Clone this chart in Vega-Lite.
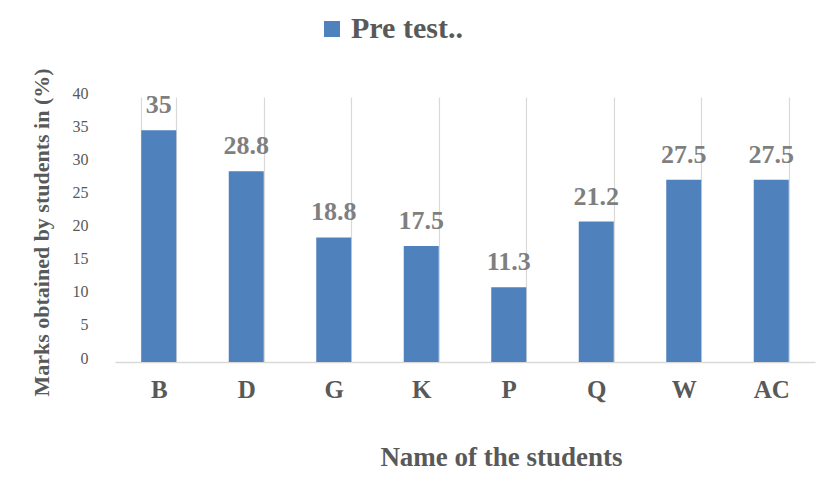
{
  "$schema": "https://vega.github.io/schema/vega-lite/v6.json",
  "autosize": {"type": "none"},
  "padding": {"left": 115, "top": 97, "right": 20, "bottom": 115},
  "width": 700,
  "height": 265,
  "background": "white",
  "config": {
    "view": {"stroke": null},
    "font": "Liberation Serif"
  },
  "data": {
    "values": [
      {"student": "B", "marks": 35, "series": "Pre test.."},
      {"student": "D", "marks": 28.8, "series": "Pre test.."},
      {"student": "G", "marks": 18.8, "series": "Pre test.."},
      {"student": "K", "marks": 17.5, "series": "Pre test.."},
      {"student": "P", "marks": 11.3, "series": "Pre test.."},
      {"student": "Q", "marks": 21.2, "series": "Pre test.."},
      {"student": "W", "marks": 27.5, "series": "Pre test.."},
      {"student": "AC", "marks": 27.5, "series": "Pre test.."}
    ]
  },
  "encoding": {
    "x": {
      "field": "student",
      "type": "nominal",
      "sort": null,
      "scale": {"paddingInner": 0.6, "paddingOuter": 0.3},
      "axis": {
        "title": "Name of the students",
        "titleFont": "Liberation Serif",
        "titleFontSize": 27,
        "titleFontWeight": "bold",
        "titleColor": "#595959",
        "titleX": 386,
        "titleY": 103,
        "titleBaseline": "alphabetic",
        "titleAnchor": "middle",
        "labelAngle": 0,
        "labelFont": "Liberation Serif",
        "labelFontSize": 25,
        "labelFontWeight": "bold",
        "labelColor": "#595959",
        "labelPadding": 15,
        "ticks": false,
        "domainColor": "#D9D9D9",
        "domainWidth": 1.5,
        "grid": true,
        "gridColor": "#D9D9D9",
        "gridWidth": 1.2,
        "tickBand": "extent"
      }
    },
    "y": {
      "field": "marks",
      "type": "quantitative",
      "scale": {"domain": [0, 40], "nice": false},
      "axis": {
        "title": "Marks obtained by students in (%)",
        "titleFont": "Liberation Serif",
        "titleFontSize": 22,
        "titleFontWeight": "bold",
        "titleColor": "#595959",
        "titleX": -67,
        "titleY": 135,
        "titleAngle": -90,
        "titleAnchor": "middle",
        "titleAlign": "center",
        "titleBaseline": "alphabetic",
        "values": [0, 5, 10, 15, 20, 25, 30, 35, 40],
        "labelFont": "Liberation Serif",
        "labelFontSize": 16,
        "labelColor": "#595959",
        "labelPadding": 27,
        "labelOffset": -4,
        "domain": false,
        "ticks": false,
        "grid": false
      }
    }
  },
  "layer": [
    {
      "mark": {"type": "bar"},
      "encoding": {
        "color": {
          "field": "series",
          "type": "nominal",
          "scale": {"range": ["#4F81BD"]},
          "legend": {
            "title": null,
            "orient": "none",
            "legendX": 202,
            "legendY": -83,
            "padding": 0,
            "symbolType": "square",
            "symbolSize": 256,
            "symbolStrokeWidth": 0,
            "labelFont": "Liberation Serif",
            "labelFontSize": 30,
            "labelFontWeight": "bold",
            "labelColor": "#595959",
            "labelOffset": 4,
            "labelLimit": 300
          }
        }
      }
    },
    {
      "mark": {
        "type": "text",
        "font": "Liberation Serif",
        "fontSize": 26,
        "fontWeight": "bold",
        "color": "#7F7F7F",
        "baseline": "alphabetic",
        "dy": -17
      },
      "encoding": {
        "text": {"field": "marks", "type": "quantitative"}
      }
    }
  ]
}
